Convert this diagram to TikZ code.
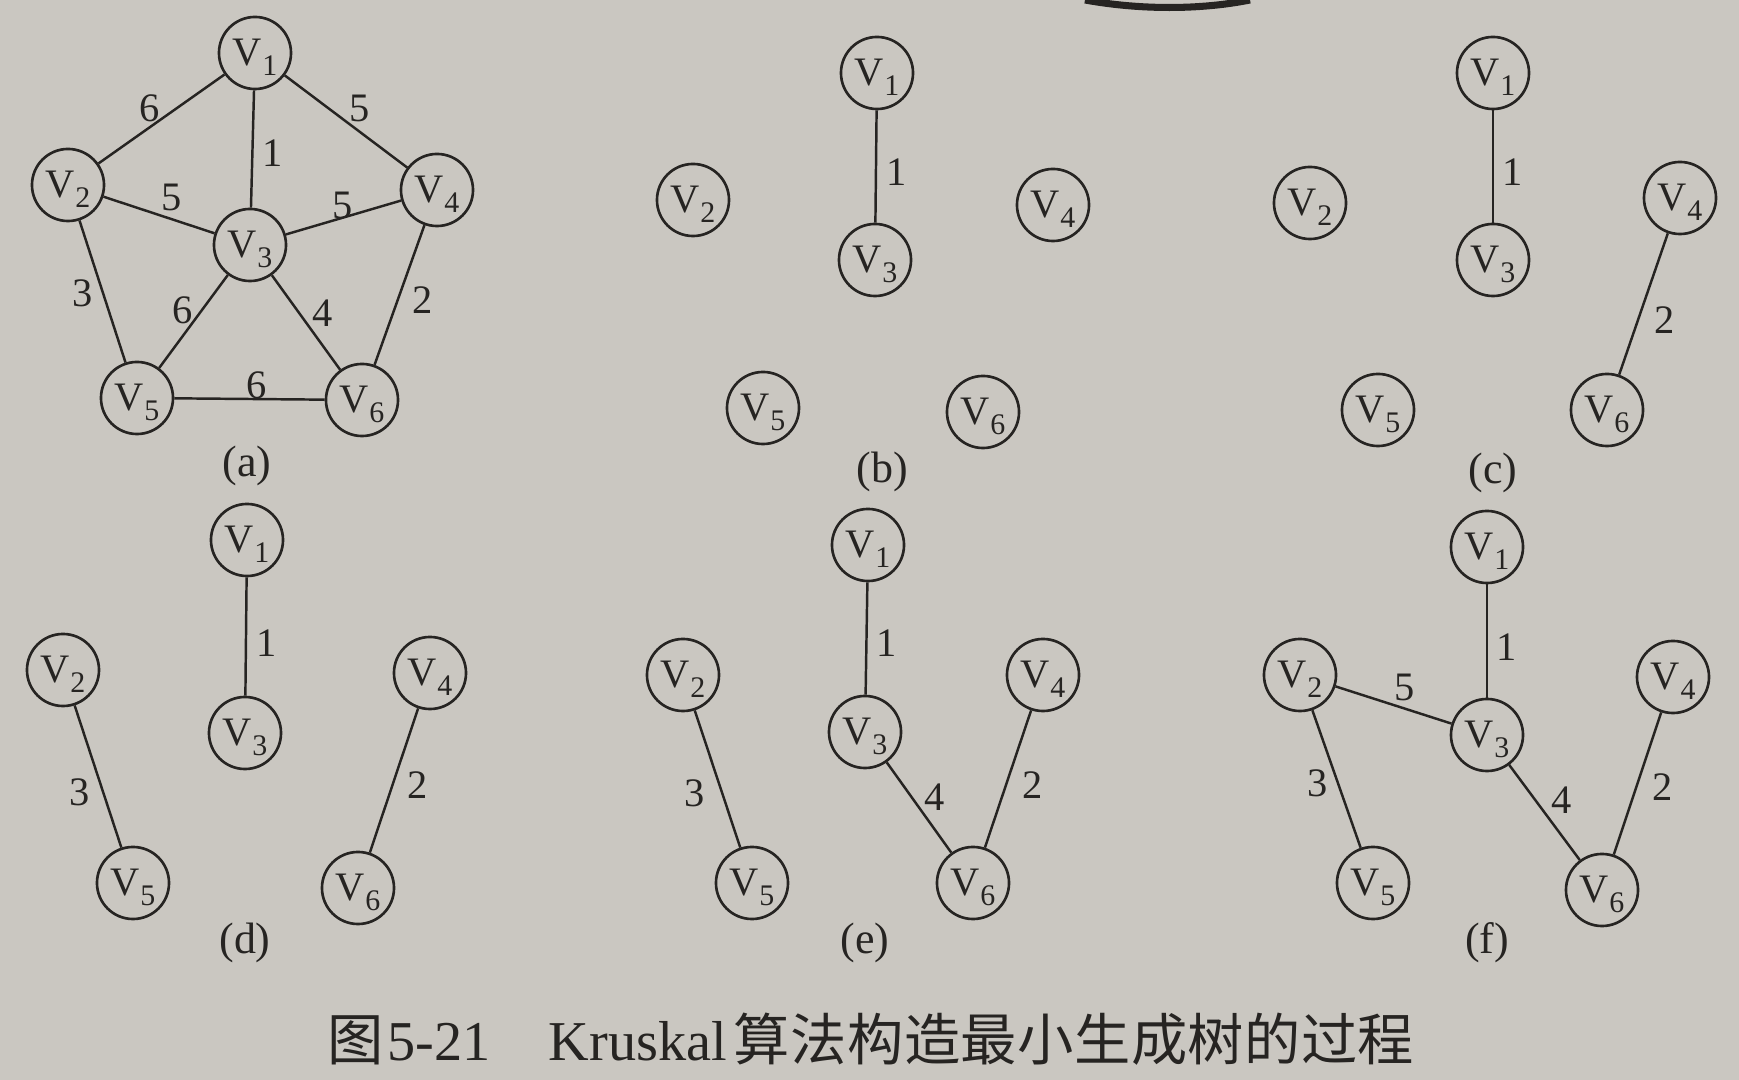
\documentclass[tikz,border=0pt]{standalone}
\usepackage{fontspec}
\setmainfont{Liberation Serif}
\newfontfamily\cjk{Noto Sans CJK SC}
\definecolor{paper}{RGB}{202,199,193}
\definecolor{ink}{RGB}{38,36,34}
\newcommand\vlab[1]{V\kern0.2pt\smash{\raisebox{-0.5ex}{\fontsize{8.5}{8.5}\selectfont #1}}}
\newcommand\cch[1]{\makebox[0.567cm][c]{#1}}
\tikzset{
  vtx/.style={circle, draw=ink, line width=0.75pt, minimum size=0.72cm, inner sep=0pt, text=ink, font=\fontsize{11.5}{12}\selectfont},
  edge/.style={draw=ink, line width=0.7pt},
  wt/.style={text=ink, inner sep=0pt, font=\fontsize{11.5}{12}\selectfont},
  plab/.style={text=ink, inner sep=0pt, font=\fontsize{12.5}{14}\selectfont},
  capt/.style={text=ink, inner sep=0pt, anchor=base west, font=\fontsize{16}{18}\selectfont}
}
\begin{document}
\begin{tikzpicture}[x=0.01cm, y=-0.01cm]
\useasboundingbox (0,0) rectangle (1739,1080);
\fill[paper] (0,0) rectangle (1739,1080);
\draw[ink, line width=2pt] (1085,0) .. controls (1140,10) and (1200,10) .. (1250,0);

% (a)
\node[vtx] (a1) at (255,53) {\vlab{1}};
\node[vtx] (a2) at (68,185) {\vlab{2}};
\node[vtx] (a3) at (250,245) {\vlab{3}};
\node[vtx] (a4) at (437,190) {\vlab{4}};
\node[vtx] (a5) at (137,398) {\vlab{5}};
\node[vtx] (a6) at (362,400) {\vlab{6}};
\draw[edge] (a1) -- (a2);
\draw[edge] (a1) -- (a4);
\draw[edge] (a1) -- (a3);
\draw[edge] (a2) -- (a3);
\draw[edge] (a3) -- (a4);
\draw[edge] (a2) -- (a5);
\draw[edge] (a3) -- (a5);
\draw[edge] (a3) -- (a6);
\draw[edge] (a4) -- (a6);
\draw[edge] (a5) -- (a6);
\node[wt] (wa12) at (150,108) {6};
\node[wt] (wa14) at (360,108) {5};
\node[wt] (wa13) at (273,153) {1};
\node[wt] (wa23) at (172,197) {5};
\node[wt] (wa34) at (343,205) {5};
\node[wt] (wa25) at (83,293) {3};
\node[wt] (wa35) at (183,310) {6};
\node[wt] (wa36) at (323,313) {4};
\node[wt] (wa46) at (423,300) {2};
\node[wt] (wa56) at (257,385) {6};
\node[plab] (la) at (247,466) {(a)};

% (b)
\node[vtx] (b1) at (877,73) {\vlab{1}};
\node[vtx] (b2) at (693,200) {\vlab{2}};
\node[vtx] (b3) at (875,260) {\vlab{3}};
\node[vtx] (b4) at (1053,205) {\vlab{4}};
\node[vtx] (b5) at (763,408) {\vlab{5}};
\node[vtx] (b6) at (983,412) {\vlab{6}};
\draw[edge] (b1) -- (b3);
\node[wt] (wb13) at (897,172) {1};
\node[plab] (lb) at (882,472) {(b)};

% (c)
\node[vtx] (c1) at (1493,73) {\vlab{1}};
\node[vtx] (c2) at (1310,203) {\vlab{2}};
\node[vtx] (c3) at (1493,260) {\vlab{3}};
\node[vtx] (c4) at (1680,198) {\vlab{4}};
\node[vtx] (c5) at (1378,410) {\vlab{5}};
\node[vtx] (c6) at (1607,410) {\vlab{6}};
\draw[edge] (c1) -- (c3);
\draw[edge] (c4) -- (c6);
\node[wt] (wc13) at (1513,172) {1};
\node[wt] (wc46) at (1665,320) {2};
\node[plab] (lc) at (1493,473) {(c)};

% (d)
\node[vtx] (d1) at (247,540) {\vlab{1}};
\node[vtx] (d2) at (63,670) {\vlab{2}};
\node[vtx] (d3) at (245,733) {\vlab{3}};
\node[vtx] (d4) at (430,673) {\vlab{4}};
\node[vtx] (d5) at (133,883) {\vlab{5}};
\node[vtx] (d6) at (358,888) {\vlab{6}};
\draw[edge] (d1) -- (d3);
\draw[edge] (d2) -- (d5);
\draw[edge] (d4) -- (d6);
\node[wt] (wd13) at (267,643) {1};
\node[wt] (wd25) at (80,792) {3};
\node[wt] (wd46) at (418,785) {2};
\node[plab] (ld) at (245,943) {(d)};

% (e)
\node[vtx] (e1) at (868,545) {\vlab{1}};
\node[vtx] (e2) at (683,675) {\vlab{2}};
\node[vtx] (e3) at (865,732) {\vlab{3}};
\node[vtx] (e4) at (1043,675) {\vlab{4}};
\node[vtx] (e5) at (752,883) {\vlab{5}};
\node[vtx] (e6) at (973,883) {\vlab{6}};
\draw[edge] (e1) -- (e3);
\draw[edge] (e2) -- (e5);
\draw[edge] (e4) -- (e6);
\draw[edge] (e3) -- (e6);
\node[wt] (we13) at (887,643) {1};
\node[wt] (we25) at (695,793) {3};
\node[wt] (we36) at (935,797) {4};
\node[wt] (we46) at (1033,785) {2};
\node[plab] (le) at (865,943) {(e)};

% (f)
\node[vtx] (f1) at (1487,547) {\vlab{1}};
\node[vtx] (f2) at (1300,675) {\vlab{2}};
\node[vtx] (f3) at (1487,735) {\vlab{3}};
\node[vtx] (f4) at (1673,677) {\vlab{4}};
\node[vtx] (f5) at (1373,883) {\vlab{5}};
\node[vtx] (f6) at (1602,890) {\vlab{6}};
\draw[edge] (f1) -- (f3);
\draw[edge] (f2) -- (f5);
\draw[edge] (f4) -- (f6);
\draw[edge] (f3) -- (f6);
\draw[edge] (f2) -- (f3);
\node[wt] (wf13) at (1507,647) {1};
\node[wt] (wf23) at (1405,687) {5};
\node[wt] (wf25) at (1318,783) {3};
\node[wt] (wf36) at (1562,800) {4};
\node[wt] (wf46) at (1663,787) {2};
\node[plab] (lf) at (1487,943) {(f)};

% caption
\node[capt] (cap1) at (327,1061) {\cjk 图};
\node[capt] (cap2) at (387,1061) {5-21};
\node[capt] (cap3) at (548,1061) {Kruskal};
\node[capt] (cap4) at (733,1061) {\cjk\cch{算}\cch{法}\cch{构}\cch{造}\cch{最}\cch{小}\cch{生}\cch{成}\cch{树}\cch{的}\cch{过}\cch{程}};
\end{tikzpicture}
\end{document}
